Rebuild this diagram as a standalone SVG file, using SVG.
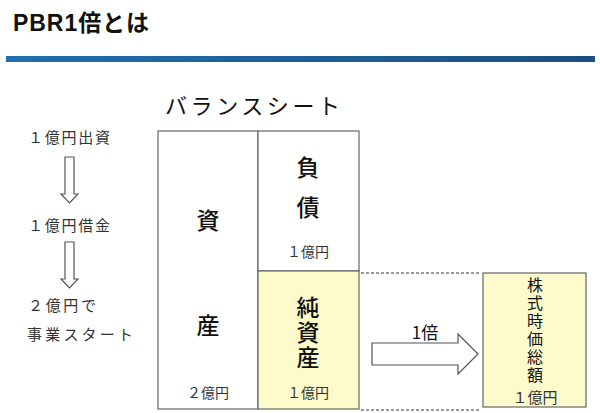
<svg xmlns="http://www.w3.org/2000/svg" width="600" height="413" viewBox="0 0 600 413">
<defs>
<linearGradient id="bar" x1="0" y1="0" x2="1" y2="0">
<stop offset="0" stop-color="#1f6fb0"/>
<stop offset="1" stop-color="#1d4f80"/>
</linearGradient>
</defs>
<style>
text{font-family:"Noto Sans CJK JP","Liberation Sans",sans-serif;}
.big{font-size:23px;fill:#111;text-anchor:middle;font-weight:500;}
.sm{font-size:14px;fill:#333;text-anchor:middle;}
.lt{font-size:15px;fill:#333;}
.vert{writing-mode:vertical-rl;text-orientation:upright;fill:#111;}
.box{stroke:#666;stroke-width:1.2;}
.dash{stroke:#333;stroke-width:1;stroke-dasharray:3 2;fill:none;}
.arr{fill:#fff;stroke:#555;stroke-width:1.2;}
</style>
<rect width="600" height="413" fill="#fff"/>
<text x="13" y="31" style="font-family:'Liberation Sans','Noto Sans CJK JP',sans-serif;font-size:23px;font-weight:bold;fill:#111" textLength="136">PBR1倍とは</text>
<rect x="6" y="56" width="589" height="6" fill="url(#bar)"/>

<g id="steps">
<text class="lt" x="28" y="143" textLength="82">１億円出資</text>
<text class="lt" x="28" y="231" textLength="82">１億円借金</text>
<text class="lt" x="28" y="311" textLength="68">２億円で</text>
<text class="lt" x="27" y="340" textLength="106">事業スタート</text>
</g>
<g id="connectors">
<path class="arr" d="M65,157 H74 V194 H78 L69.5,203 L61,194 H65 Z"/>
<path class="arr" d="M65,242 H74 V279 H78 L69.5,288 L61,279 H65 Z"/>
<path class="arr" d="M372,343 H458 V334 L478,354 L458,374 V365 H372 Z"/>
<line class="dash" x1="361" y1="273" x2="479" y2="273"/>
<line class="dash" x1="361" y1="410" x2="479" y2="410"/>
<text x="425" y="339" style="font-size:17px;fill:#111;text-anchor:middle">1倍</text>
</g>

<text x="165" y="114" style="font-size:22px;fill:#111" textLength="175">バランスシート</text>

<g id="assets">
<rect class="box" x="158" y="131" width="100" height="278" fill="#fff"/>
<text class="big" x="208" y="229">資</text>
<text class="big" x="208" y="334">産</text>
<text class="sm" x="208" y="398">２億円</text>
</g>
<g id="liabilities">
<rect class="box" x="258" y="131" width="101" height="140" fill="#fff"/>
<text class="big" x="308" y="176">負</text>
<text class="big" x="308" y="216">債</text>
<text class="sm" x="308" y="257">１億円</text>
</g>
<g id="equity">
<rect class="box" x="258" y="271" width="101" height="138" fill="#fdfbcb"/>
<text class="vert" x="308" y="296" style="font-size:23px;letter-spacing:2px;font-weight:500">純資産</text>
<text class="sm" x="308" y="398">１億円</text>
</g>
<g id="marketcap">
<rect class="box" x="483" y="273" width="103" height="134" fill="#fdfbcb"/>
<text class="vert" x="535" y="277" style="font-size:16px;letter-spacing:2px">株式時価総額</text>
<text x="535" y="403" style="font-size:15px;fill:#333;text-anchor:middle">１億円</text>
</g>
</svg>
